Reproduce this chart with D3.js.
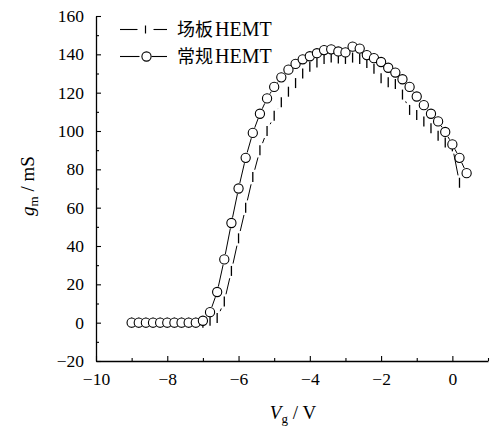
<!DOCTYPE html>
<html>
<head>
<meta charset="utf-8">
<script src="https://cdn.jsdelivr.net/npm/d3@7"></script>
<style>
  body { margin: 0; background: #fff; }
  svg { display: block; }
  .tick text { font-family: "Liberation Serif", "Times New Roman", serif; font-size: 17.5px; fill: #000; }
</style>
</head>
<body>
<svg id="chart" width="498" height="432"></svg>
<script>
(function() {
    'use strict';

    // gate voltage, V
    var vg = [-9.0, -8.8, -8.6, -8.4, -8.2, -8.0, -7.8, -7.6, -7.4, -7.2,
              -7.0, -6.8, -6.6, -6.4, -6.2, -6.0, -5.8, -5.6, -5.4, -5.2,
              -5.0, -4.8, -4.6, -4.4, -4.2, -4.0, -3.8, -3.6, -3.4, -3.2,
              -3.0, -2.8, -2.6, -2.4, -2.2, -2.0, -1.8, -1.6, -1.4, -1.2,
              -1.0, -0.8, -0.6, -0.4, -0.2, 0.0, 0.2, 0.4];
    // 场板 HEMT, gm (mS) -- ends at 0.2 V
    var fieldPlate = [0, 0, 0, 0, 0, 0, 0, 0, 0, 0,
                      0, 1, 2.4, 11, 27, 44, 60, 76, 90, 100,
                      108, 115, 120.5, 125, 130, 133.5, 135.8, 137.6, 138.3, 137.8,
                      137.6, 138.3, 137.6, 135.5, 132.5, 127.5, 125.5, 124.5, 119, 111,
                      108.3, 105, 101.4, 97.5, 94, 92, 73];
    // 常规 HEMT, gm (mS)
    var conventional = [0, 0, 0, 0, 0, 0, 0, 0, 0, 0,
                        1, 5.5, 16, 33, 52, 70, 86, 99, 109, 117,
                        123, 128, 132, 135, 137.4, 139, 140.6, 142.2, 142.6, 141.5,
                        141, 144, 143, 139.6, 138, 136, 133, 130.5, 127, 123,
                        118, 113.5, 109, 105, 99.5, 93, 86, 78];
    var xMajor = [-10, -8, -6, -4, -2, 0];
    var xMinor = [-9, -7, -5, -3, -1, 1];
    var yMajor = [-20, 0, 20, 40, 60, 80, 100, 120, 140, 160];
    var yMinor = [-10, 10, 30, 50, 70, 90, 110, 130, 150];
    var legendNames = ["场板", "常规"];

    var svg = d3.select("#chart");
    var x = d3.scaleLinear().domain([-10, 1]).range([96, 488]);
    var y = d3.scaleLinear().domain([-20, 160]).range([361, 16]);
    var serif = '"Liberation Serif", "Times New Roman", serif';
    var cjk = '"Noto Sans CJK SC", "Noto Sans CJK JP", sans-serif';

    // axes (ticks point inward)
    svg.append("g").attr("transform", "translate(0," + y(-20) + ")")
        .call(d3.axisBottom(x).tickValues(xMajor).tickSizeInner(-5).tickSizeOuter(0).tickPadding(12));
    svg.append("g").attr("transform", "translate(0," + y(-20) + ")")
        .call(d3.axisBottom(x).tickValues(xMinor).tickSizeInner(-3).tickSizeOuter(0).tickFormat(""))
        .select(".domain").remove();
    svg.append("g").attr("transform", "translate(" + x(-10) + ",0)")
        .call(d3.axisLeft(y).tickValues(yMajor).tickSizeInner(-5).tickSizeOuter(0).tickPadding(12));
    svg.append("g").attr("transform", "translate(" + x(-10) + ",0)")
        .call(d3.axisLeft(y).tickValues(yMinor).tickSizeInner(-3).tickSizeOuter(0).tickFormat(""))
        .select(".domain").remove();
    svg.selectAll(".domain").attr("stroke", "#000").attr("stroke-width", 1.3);
    svg.selectAll(".tick line").attr("stroke", "#000").attr("stroke-width", 1.1);

    // axis titles
    var xt = svg.append("text").attr("x", 293).attr("y", 419).attr("text-anchor", "middle")
        .style("font-family", serif).style("font-size", "19px");
    xt.append("tspan").style("font-style", "italic").text("V");
    xt.append("tspan").attr("dy", 4).style("font-size", "13px").text("g");
    xt.append("tspan").attr("dy", -4).text(" / V");

    var yt = svg.append("text").attr("transform", "translate(34,186) rotate(-90)").attr("text-anchor", "middle")
        .style("font-family", serif).style("font-size", "19px");
    yt.append("tspan").style("font-style", "italic").text("g");
    yt.append("tspan").attr("dy", 4).style("font-size", "13px").text("m");
    yt.append("tspan").attr("dy", -4).text(" / mS");

    // line broken around each symbol, like the original plot
    function gapSegments(pts, gap) {
        var segs = [];
        for (var i = 1; i < pts.length; i++) {
            var x0 = pts[i - 1][0], y0 = pts[i - 1][1], x1 = pts[i][0], y1 = pts[i][1];
            var dx = x1 - x0, dy = y1 - y0, len = Math.sqrt(dx * dx + dy * dy);
            if (len <= 2 * gap) continue;
            var ux = dx / len, uy = dy / len;
            segs.push([x0 + ux * gap, y0 + uy * gap, x1 - ux * gap, y1 - uy * gap]);
        }
        return segs;
    }
    function drawSegs(segs) {
        svg.append("g").selectAll("line").data(segs).enter().append("line")
            .attr("x1", function(d) { return d[0]; }).attr("y1", function(d) { return d[1]; })
            .attr("x2", function(d) { return d[2]; }).attr("y2", function(d) { return d[3]; })
            .attr("stroke", "#000").attr("stroke-width", 1);
    }

    var fpPts = fieldPlate.map(function(v, i) { return [x(vg[i]), y(v)]; });
    var cvPts = conventional.map(function(v, i) { return [x(vg[i]), y(v)]; });

    drawSegs(gapSegments(fpPts, 7.5));
    svg.append("g").selectAll("line").data(fpPts).enter().append("line")
        .attr("x1", function(d) { return d[0]; }).attr("x2", function(d) { return d[0]; })
        .attr("y1", function(d) { return d[1] - 5; }).attr("y2", function(d) { return d[1] + 5; })
        .attr("stroke", "#000").attr("stroke-width", 1.3);

    drawSegs(gapSegments(cvPts, 5.5));
    svg.append("g").selectAll("circle").data(cvPts).enter().append("circle")
        .attr("cx", function(d) { return d[0]; }).attr("cy", function(d) { return d[1]; })
        .attr("r", 4.6).attr("fill", "#fff").attr("stroke", "#000").attr("stroke-width", 1.1);

    // legend
    var lg = svg.append("g");
    legendNames.forEach(function(name, i) {
        var ly = 29.5 + i * 27, cx = 145.5, gap = i === 0 ? 8 : 6;
        lg.append("line").attr("x1", 120).attr("x2", cx - gap).attr("y1", ly).attr("y2", ly)
            .attr("stroke", "#000").attr("stroke-width", 1.1);
        lg.append("line").attr("x1", cx + gap).attr("x2", 167).attr("y1", ly).attr("y2", ly)
            .attr("stroke", "#000").attr("stroke-width", 1.1);
        if (i === 0) {
            lg.append("line").attr("x1", cx).attr("x2", cx).attr("y1", ly - 4).attr("y2", ly + 4)
                .attr("stroke", "#000").attr("stroke-width", 1.2);
        } else {
            lg.append("circle").attr("cx", cx + 1).attr("cy", ly).attr("r", 4.6)
                .attr("fill", "#fff").attr("stroke", "#000").attr("stroke-width", 1.1);
        }
        var t = lg.append("text").attr("x", 177).attr("y", ly + 6.5);
        t.append("tspan").style("font-family", cjk).style("font-size", "18px").text(name);
        t.append("tspan").attr("dx", 2).style("font-family", serif).style("font-size", "20px").text("HEMT");
    });
})();
</script>
</body>
</html>
